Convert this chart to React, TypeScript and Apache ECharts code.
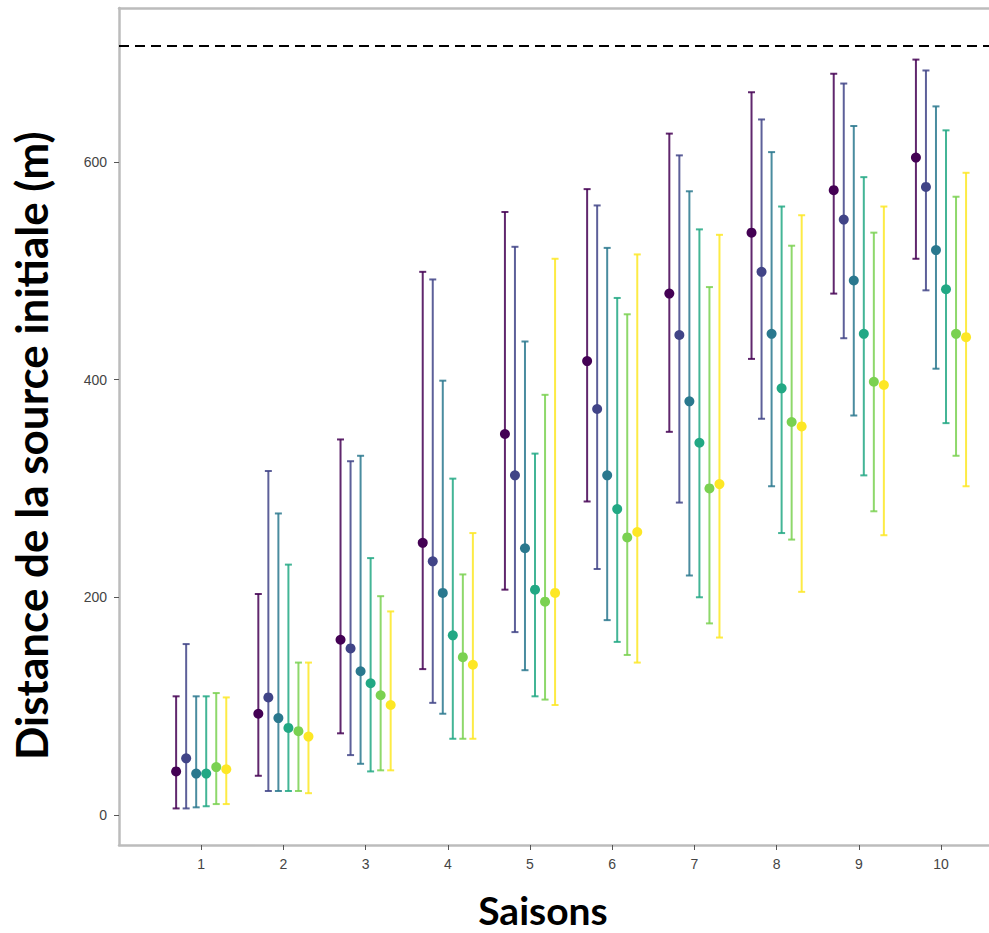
import React, { useEffect, useRef } from "react";
import * as echarts from "echarts";

const seasons = [1, 2, 3, 4, 5, 6, 7, 8, 9, 10];
const groupColors = ["#440154", "#414487", "#2A788E", "#22A884", "#7AD151", "#FDE725"];

const meanValues = [
  [40, 93, 161, 250, 350, 417, 479, 535, 574, 604],
  [52, 108, 153, 233, 312, 373, 441, 499, 547, 577],
  [38, 89, 132, 204, 245, 312, 380, 442, 491, 519],
  [38, 80, 121, 165, 207, 281, 342, 392, 442, 483],
  [44, 77, 110, 145, 196, 255, 300, 361, 398, 442],
  [42, 72, 101, 138, 204, 260, 304, 357, 395, 439],
];
const lowerValues = [
  [6, 36, 75, 134, 207, 288, 352, 419, 479, 511],
  [6, 22, 55, 103, 168, 226, 287, 364, 438, 482],
  [7, 22, 47, 93, 133, 179, 220, 302, 367, 410],
  [8, 22, 40, 70, 109, 159, 200, 259, 312, 360],
  [10, 22, 41, 70, 106, 147, 176, 253, 279, 330],
  [10, 20, 41, 70, 101, 140, 163, 205, 257, 302],
];
const upperValues = [
  [109, 203, 345, 499, 554, 575, 626, 664, 681, 694],
  [157, 316, 325, 492, 522, 560, 606, 639, 672, 684],
  [109, 277, 330, 399, 435, 521, 573, 609, 633, 651],
  [109, 230, 236, 309, 332, 475, 538, 559, 586, 629],
  [112, 140, 201, 221, 386, 460, 485, 523, 535, 568],
  [108, 140, 187, 259, 511, 515, 533, 551, 559, 590],
];
const yTickValues = [0, 200, 400, 600];
const referenceDistance = 707;
const xTitle = "Saisons";
const yTitle = "Distance de la source initiale (m)";

export default function App() {
  const ref = useRef<HTMLDivElement>(null);
  useEffect(() => {
    const chart = echarts.init(ref.current!, null, { renderer: "svg" });
    const spacing = 0.122;
    const series: any[] = [];
    groupColors.forEach((color, g) => {
      const off = (g - 2.5) * spacing;
      const errData = seasons.map((s, i) => [s + off, lowerValues[g][i], upperValues[g][i]]);
      series.push({
        type: "custom",
        renderItem: (params: any, api: any) => {
          const x = api.value(0);
          const lo = api.coord([x, api.value(1)]);
          const hi = api.coord([x, api.value(2)]);
          const w = 3.5;
          const st = { stroke: color, lineWidth: 2, opacity: 0.85 };
          return {
            type: "group",
            children: [
              { type: "line", shape: { x1: lo[0], y1: lo[1], x2: hi[0], y2: hi[1] }, style: st },
              { type: "line", shape: { x1: hi[0] - w, y1: hi[1], x2: hi[0] + w, y2: hi[1] }, style: st },
              { type: "line", shape: { x1: lo[0] - w, y1: lo[1], x2: lo[0] + w, y2: lo[1] }, style: st },
            ],
          };
        },
        data: errData,
        encode: { x: 0, y: [1, 2] },
        z: 2,
      });
      series.push({
        type: "scatter",
        data: seasons.map((s, i) => [s + off, meanValues[g][i]]),
        symbol: "circle",
        symbolSize: 10,
        itemStyle: { color, opacity: 1 },
        z: 3,
      });
    });
    series.push({
      type: "scatter",
      data: [],
      markLine: {
        silent: true,
        symbol: ["none", "none"],
        label: { show: false },
        lineStyle: { type: [10, 6], color: "#000", width: 2 },
        data: [{ yAxis: referenceDistance }],
      },
    });

    const frame = { show: true, onZero: false, lineStyle: { color: "#bcbcbc", width: 2.5 } };

    chart.setOption({
      animation: false,
      grid: {
        left: 119,
        top: 8,
        bottom: 88,
        right: 0,
        show: false,
      },
      xAxis: [
        {
          type: "value",
          min: 0,
          max: 10.584,
          splitLine: { show: false },
          axisLine: frame,
          axisTick: { show: true, length: 5, lineStyle: { color: "#555" }, customValues: seasons },
          axisLabel: {
            color: "#444",
            fontSize: 14,
            fontFamily: "Liberation Sans",
            margin: 12,
            customValues: seasons,
            formatter: (v: number) => String(v),
          },
        },
        {
          type: "value",
          position: "top",
          min: 0,
          max: 10.584,
          splitLine: { show: false },
          axisLine: frame,
          axisTick: { show: false },
          axisLabel: { show: false },
        },
      ],
      yAxis: {
        type: "value",
        min: -27.6,
        max: 741.4,
        splitLine: { show: false },
        axisLine: frame,
        axisTick: { show: true, length: 5, lineStyle: { color: "#555" }, customValues: yTickValues },
        axisLabel: {
          color: "#444",
          fontSize: 14,
          fontFamily: "Liberation Sans",
          margin: 12,
          customValues: yTickValues,
          formatter: (v: number) => String(v),
        },
      },
      graphic: [
        {
          type: "text",
          x: 543,
          y: 910,
          style: {
            text: xTitle,
            fontSize: 39,
            fontWeight: "bold",
            fontFamily: "Lato",
            fill: "#000",
            align: "center",
            verticalAlign: "middle",
          },
        },
        {
          type: "text",
          x: 31,
          y: 760,
          rotation: Math.PI / 2,
          style: {
            text: yTitle,
            fontSize: 44,
            fontWeight: "bold",
            fontFamily: "Lato",
            fill: "#000",
            align: "left",
            verticalAlign: "middle",
          },
        },
      ],
      series,
    });
    return () => chart.dispose();
  }, []);
  return (
    <div
      ref={ref}
      style={{ position: "fixed", left: 0, top: 0, width: 989, height: 933, background: "#fff" }}
    />
  );
}
